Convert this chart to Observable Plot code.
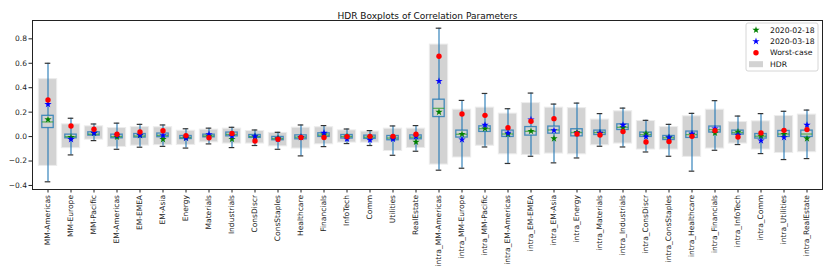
<!DOCTYPE html>
<html><head><meta charset="utf-8">
<script src="https://cdn.jsdelivr.net/npm/d3@7"></script>
<script src="https://cdn.jsdelivr.net/npm/@observablehq/plot@0.6"></script>
<style>body{margin:0;background:#fff;} #chart{width:830px;height:277px;}</style>
</head><body><div id="chart"></div>
<script>
const title = "HDR Boxplots of Correlation Parameters";
const categories = ["MM-Americas","MM-Europe","MM-Pacific","EM-Americas","EM-EMEA","EM-Asia","Energy","Materials","Industrials","ConsDiscr","ConsStaples","Healthcare","Financials","InfoTech","Comm","Utilities","RealEstate","intra_MM-Americas","intra_MM-Europe","intra_MM-Pacific","intra_EM-Americas","intra_EM-EMEA","intra_EM-Asia","intra_Energy","intra_Materials","intra_Industrials","intra_ConsDiscr","intra_ConsStaples","intra_Healthcare","intra_Financials","intra_InfoTech","intra_Comm","intra_Utilities","intra_RealEstate"];
const hdrLow  = [-0.24,-0.095,-0.025,-0.085,-0.074,-0.07,-0.068,-0.047,-0.057,-0.057,-0.08,-0.098,-0.063,-0.049,-0.049,-0.118,-0.093,-0.229,-0.171,-0.075,-0.145,-0.15,-0.139,-0.145,-0.071,-0.057,-0.106,-0.106,-0.166,-0.098,-0.057,-0.106,-0.134,-0.128];
const hdrHigh = [0.47,0.10,0.084,0.07,0.078,0.076,0.048,0.057,0.065,0.046,0.03,0.073,0.076,0.051,0.041,0.065,0.065,0.753,0.22,0.237,0.188,0.274,0.237,0.233,0.139,0.207,0.127,0.078,0.166,0.22,0.119,0.125,0.168,0.18];
const whiskLow = [-0.37,-0.15,-0.033,-0.104,-0.087,-0.08,-0.094,-0.06,-0.09,-0.073,-0.104,-0.158,-0.082,-0.057,-0.073,-0.153,-0.12,-0.275,-0.259,-0.085,-0.22,-0.161,-0.215,-0.175,-0.079,-0.085,-0.126,-0.161,-0.283,-0.112,-0.065,-0.139,-0.188,-0.18];
const q1 = [0.07,-0.014,0.008,-0.014,-0.008,-0.005,-0.02,-0.006,0.002,-0.011,-0.03,-0.022,-0.003,-0.016,-0.019,-0.03,-0.022,0.16,-0.008,0.038,-0.003,0.008,0.024,0.002,0.013,0.054,-0.003,-0.028,-0.011,0.033,0.016,-0.016,-0.003,-0.003];
const median = [0.12,0.0,0.02,0.0,0.005,0.01,-0.008,0.005,0.018,0.0,-0.017,-0.005,0.012,0.0,-0.005,-0.012,-0.005,0.231,0.019,0.065,0.021,0.043,0.054,0.033,0.033,0.076,0.016,-0.01,0.016,0.057,0.033,0.003,0.021,0.021];
const q3 = [0.17,0.016,0.035,0.016,0.021,0.025,0.005,0.016,0.033,0.013,-0.003,0.01,0.027,0.013,0.008,0.005,0.01,0.302,0.049,0.084,0.049,0.078,0.082,0.06,0.049,0.10,0.033,0.005,0.041,0.082,0.049,0.021,0.046,0.049];
const whiskHigh = [0.60,0.15,0.103,0.11,0.10,0.095,0.064,0.069,0.076,0.054,0.035,0.095,0.09,0.062,0.049,0.087,0.09,0.887,0.296,0.353,0.228,0.356,0.266,0.274,0.188,0.233,0.133,0.10,0.19,0.294,0.168,0.188,0.207,0.217];
const feb18 = [0.14,-0.005,0.03,-0.003,0.01,-0.022,-0.01,0.005,-0.021,0.0,-0.015,-0.005,0.015,0.0,-0.005,-0.01,-0.044,0.201,0.02,0.065,0.021,0.045,-0.016,0.035,0.03,0.075,0.024,-0.01,0.02,0.03,0.038,0.005,0.02,-0.016];
const mar18 = [0.265,-0.022,0.03,0.01,0.012,0.01,-0.012,0.018,0.005,0.002,-0.02,-0.005,0.03,-0.019,-0.028,-0.02,0.0,0.454,-0.025,0.095,0.03,0.139,0.051,0.028,0.03,0.095,0.0,-0.006,0.024,0.065,0.013,-0.033,-0.006,0.095];
const worst = [0.30,0.087,0.06,0.019,0.038,0.048,0.008,-0.01,0.026,-0.036,-0.022,-0.008,-0.008,0.0,0.002,0.002,0.019,0.658,0.185,0.174,0.073,0.125,0.147,0.021,0.013,0.041,-0.044,-0.041,0.002,0.049,-0.003,0.03,0.051,0.057];
const yTicks = [-0.4,-0.2,0.0,0.2,0.4,0.6,0.8];
const legendLabels = ["2020-02-18","2020-03-18","Worst-case","HDR"];

const rows = categories.map((c,i)=>({cat:c,hdrLow:hdrLow[i],hdrHigh:hdrHigh[i],whiskLow:whiskLow[i],q1:q1[i],median:median[i],q3:q3[i],whiskHigh:whiskHigh[i],feb18:feb18[i],mar18:mar18[i],worst:worst[i]}));

const W = 830, H = 277, mL = 32, mR = 8, mT = 20, mB = 88;
const bw = (W - mL - mR) / categories.length;
const starR = 2.3, dotR = 2.7;

const chart = Plot.plot({
  width: W, height: H, marginLeft: mL, marginRight: mR, marginTop: mT, marginBottom: mB,
  style: {fontFamily: "DejaVu Sans", fontSize: "7.5px", background: "white", color: "#222"},
  x: {type: "band", domain: categories, padding: 0, label: null, tickRotate: -90, tickSize: 3.5, tickPadding: 2},
  y: {domain: [-0.433, 0.95], ticks: yTicks, tickFormat: d3.format(".1f"), label: null, tickSize: 3.5, tickPadding: 2},
  marks: [
    Plot.barY(rows, {x: "cat", y1: "hdrLow", y2: "hdrHigh", fill: "#d3d3d3", stroke: "#ececec", strokeWidth: 1, insetLeft: bw * 0.1, insetRight: bw * 0.1}),
    Plot.ruleX(rows, {x: "cat", y1: "whiskLow", y2: "q1", stroke: "#1f77b4", strokeOpacity: 0.6, strokeWidth: 1.8}),
    Plot.ruleX(rows, {x: "cat", y1: "q3", y2: "whiskHigh", stroke: "#1f77b4", strokeOpacity: 0.6, strokeWidth: 1.8}),
    Plot.tickY(rows, {x: "cat", y: "whiskLow", stroke: "#333", strokeWidth: 1.2, insetLeft: bw * 0.375, insetRight: bw * 0.375}),
    Plot.tickY(rows, {x: "cat", y: "whiskHigh", stroke: "#333", strokeWidth: 1.2, insetLeft: bw * 0.375, insetRight: bw * 0.375}),
    Plot.barY(rows, {x: "cat", y1: "q1", y2: "q3", fill: "none", stroke: "#1f77b4", strokeOpacity: 0.8, strokeWidth: 1.3, insetLeft: bw * 0.25, insetRight: bw * 0.25}),
    Plot.tickY(rows, {x: "cat", y: "median", stroke: "#2ca02c", strokeOpacity: 0.7, strokeWidth: 1.3, insetLeft: bw * 0.25, insetRight: bw * 0.25}),
    Plot.dot(rows, {x: "cat", y: "feb18", symbol: "star", fill: "green", r: starR}),
    Plot.dot(rows, {x: "cat", y: "mar18", symbol: "star", fill: "blue", r: starR}),
    Plot.dot(rows, {x: "cat", y: "worst", symbol: "circle", fill: "red", r: dotR}),
    Plot.frame({stroke: "#222", strokeWidth: 1}),
    Plot.text([title], {frameAnchor: "top", dy: -7.5, text: d => d, fontSize: 9, fill: "#111"})
  ]
});

// legend
const svg = d3.select(chart);
const lg = svg.append("g").attr("font-family", "DejaVu Sans").attr("font-size", "7.7px").attr("text-anchor", "start");
const lx = 746, ly = 23, lw = 72, lh = 48;
lg.append("rect").attr("x", lx).attr("y", ly).attr("width", lw).attr("height", lh).attr("rx", 2)
  .attr("fill", "white").attr("fill-opacity", 0.85).attr("stroke", "#ccc").attr("stroke-width", 0.8);
const legendColors = ["green", "blue", "red", "#d3d3d3"];
const legendSym = [d3.symbolStar, d3.symbolStar, d3.symbolCircle, null];
legendLabels.forEach((lab, i) => {
  const cy = ly + 7 + i * 11.4;
  if (legendSym[i]) {
    const area = legendSym[i] === d3.symbolCircle ? Math.PI * dotR * dotR : Math.PI * starR * starR;
    lg.append("path").attr("d", d3.symbol(legendSym[i], area)())
      .attr("transform", `translate(${lx + 10},${cy})`).attr("fill", legendColors[i]);
  } else {
    lg.append("rect").attr("x", lx + 3).attr("y", cy - 3).attr("width", 14).attr("height", 6).attr("fill", legendColors[i]);
  }
  lg.append("text").attr("x", lx + 24).attr("y", cy).attr("dy", "0.35em").attr("fill", "#111").text(lab);
});

document.getElementById("chart").appendChild(chart);
</script>
</body></html>
